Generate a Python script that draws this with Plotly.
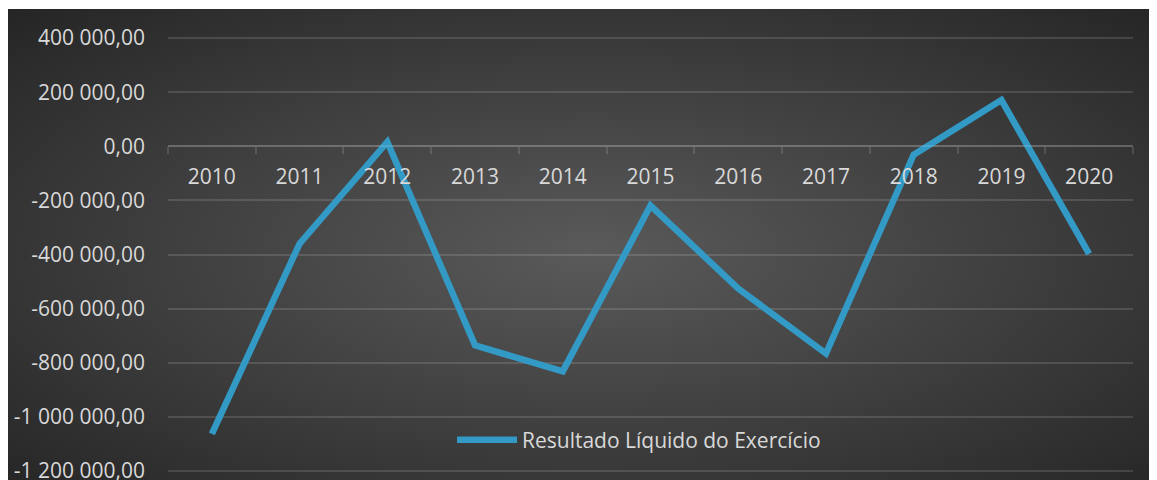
import base64
import plotly.graph_objects as go

# ---- data ----
years = ["2010", "2011", "2012", "2013", "2014", "2015", "2016", "2017", "2018", "2019", "2020"]
resultado = [-1063000, -360000, 16000, -736000, -832000, -219000, -526000, -766000, -31000, 171000, -398000]
series_name = "Resultado Líquido do Exercício"
y_ticks = [400000, 200000, 0, -200000, -400000, -600000, -800000, -1000000, -1200000]
y_tick_labels = ["400 000,00", "200 000,00", "0,00", "-200 000,00", "-400 000,00",
                 "-600 000,00", "-800 000,00", "-1 000 000,00", "-1 200 000,00"]
y_range = [-1204000, 404000]

# page body has an 8px margin; figure coordinates are shifted accordingly
OFF = 8
W, H = 1157, 480
L = 168 - OFF
R = W - (1133 - OFF)
T = 37 - OFF
B = H - (472 - OFF)
pw, ph = W - L - R, H - T - B
plot_bottom = H - B

svg = (
    '<svg xmlns="http://www.w3.org/2000/svg" width="1150" height="471" viewBox="0 0 1150 471" '
    'preserveAspectRatio="none"><defs><radialGradient id="g" cx="0.5" cy="0.5" r="0.7071">'
    '<stop offset="0" stop-color="#5a5a5a"/><stop offset="1" stop-color="#252525"/>'
    '</radialGradient></defs><rect width="1150" height="471" fill="url(#g)"/></svg>'
)
svg_uri = "data:image/svg+xml;base64," + base64.b64encode(svg.encode()).decode()

label_col = "#d9d9d9"
grid_col = "rgba(255,255,255,0.13)"
font_fam = "Open Sans, Lato, sans-serif"
fs = 21

bg_left = 7 - OFF
bg_top = 9 - OFF

fig = go.Figure()
fig.add_trace(go.Scatter(
    x=years, y=resultado, mode="lines", name=series_name,
    line=dict(color="#3399c5", width=6.5),
))

zero_pos = (0 - y_range[0]) / (y_range[1] - y_range[0])

fig.update_layout(
    width=W, height=H,
    margin=dict(l=L, r=R, t=T, b=B, pad=0, autoexpand=False),
    paper_bgcolor="white",
    plot_bgcolor="rgba(0,0,0,0)",
    font=dict(family=font_fam, color=label_col, size=fs),
    showlegend=True,
    legend=dict(
        x=(452 - OFF - L) / pw, y=(plot_bottom - (440 - OFF)) / ph,
        xanchor="left", yanchor="middle",
        bgcolor="rgba(0,0,0,0)", font=dict(size=fs, color=label_col),
        orientation="h", itemwidth=60,
    ),
    images=[dict(
        source=svg_uri, xref="paper", yref="paper",
        x=(bg_left - L) / pw, y=(plot_bottom - bg_top) / ph,
        sizex=(W + 10) / pw, sizey=(H - bg_top + 10) / ph,
        xanchor="left", yanchor="top", sizing="stretch", layer="below",
    )],
    xaxis=dict(
        type="category", range=[-0.5, 10.5],
        anchor="free", position=zero_pos, automargin=False,
        showline=True, linecolor=grid_col, linewidth=1.5,
        ticks="outside", ticklen=7, tickcolor=grid_col, tickwidth=1.5,
        tickson="boundaries",
        showgrid=False, zeroline=False,
        tickfont=dict(size=fs, color=label_col),
        ticklabelstandoff=12,
    ),
    yaxis=dict(
        range=y_range, automargin=False,
        tickvals=y_ticks, ticktext=y_tick_labels,
        showgrid=True, gridcolor=grid_col, gridwidth=1.5,
        zeroline=False, showline=False, ticks="",
        tickfont=dict(size=fs, color=label_col),
        ticklabelstandoff=22,
    ),
)

fig.write_html("out.html")
